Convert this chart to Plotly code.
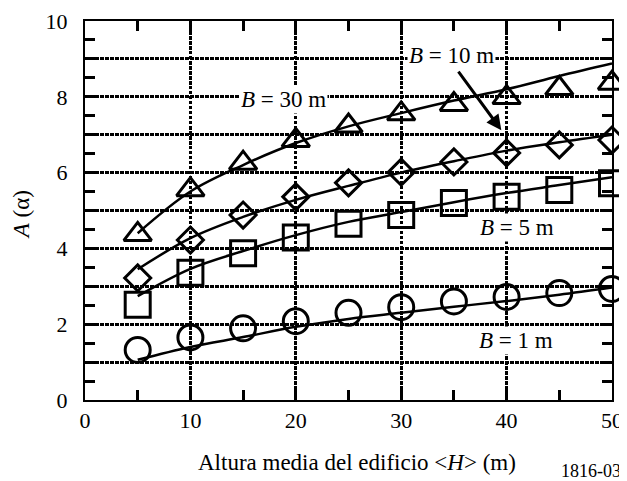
import plotly.graph_objects as go

# Data
heights = [5, 10, 15, 20, 25, 30, 35, 40, 45, 50]

b30_points = [4.37, 5.55, 6.25, 6.85, 7.23, 7.55, 7.80, 7.98, 8.22, 8.36]
b10_points = [3.22, 4.22, 4.88, 5.36, 5.73, 6.01, 6.28, 6.52, 6.73, 6.86]
b5_points = [2.51, 3.36, 3.87, 4.29, 4.65, 4.88, 5.20, 5.36, 5.54, 5.72]
b1_points = [1.32, 1.65, 1.89, 2.08, 2.30, 2.45, 2.60, 2.72, 2.82, 2.93]

b30_curve = [4.40, 5.50, 6.20, 6.78, 7.22, 7.57, 7.90, 8.20, 8.55, 8.88]
b10_curve = [3.45, 4.27, 4.83, 5.28, 5.65, 6.00, 6.30, 6.58, 6.80, 7.00]
b5_curve = [2.74, 3.46, 3.93, 4.35, 4.70, 4.96, 5.22, 5.46, 5.67, 5.88]
b1_curve = [1.06, 1.40, 1.66, 1.93, 2.14, 2.30, 2.46, 2.61, 2.78, 2.97]

y_tick_vals = list(range(0, 11))
y_tick_text = ["0", "", "2", "", "4", "", "6", "", "8", "", "10"]
x_tick_vals = [0, 10, 20, 30, 40, 50]
x_tick_text = ["0", "10", "20", "30", "40", "50"]

FONT = "Liberation Serif, Times New Roman, serif"

fig = go.Figure()

series = [
    (b30_curve, b30_points, "triangle-up-open", 24),
    (b10_curve, b10_points, "diamond-open", 20),
    (b5_curve, b5_points, "square-open", 25),
    (b1_curve, b1_points, "circle-open", 25),
]
for curve, pts, sym, sz in series:
    fig.add_trace(go.Scatter(
        x=heights, y=curve, mode="lines",
        line=dict(color="black", width=2.5, shape="spline", smoothing=1.0),
        showlegend=False, hoverinfo="skip"))
    fig.add_trace(go.Scatter(
        x=heights, y=pts, mode="markers",
        marker=dict(symbol=sym, size=sz, color="black", line=dict(width=3, color="black")),
        cliponaxis=False, showlegend=False))

ann_font = dict(family=FONT, size=23, color="black")
labels = [
    ("<i>B</i> = 30 m", 18.8, 7.94),
    ("<i>B</i> = 10 m", 34.8, 9.1),
    ("<i>B</i> = 5 m", 40.95, 4.54),
    ("<i>B</i> = 1 m", 40.85, 1.58),
]
for txt, x, y in labels:
    fig.add_annotation(x=x, y=y, text=txt, showarrow=False, font=ann_font,
                       bgcolor="white", borderpad=1)

fig.add_annotation(x=39.5, y=7.12, ax=-44, ay=-60, text="", showarrow=True,
                   arrowhead=2, arrowsize=1, arrowwidth=3, arrowcolor="black")

# Axis titles and figure number
fig.add_annotation(x=0.516, y=-0.166, xref="paper", yref="paper", xanchor="center",
                   yanchor="middle", text="Altura media del edificio &lt;<i>H</i>&gt; (m)",
                   showarrow=False, font=dict(family=FONT, size=23, color="black"))
fig.add_annotation(x=-0.121, y=0.488, xref="paper", yref="paper", xanchor="center",
                   yanchor="middle", text="<i>A</i> (α)", textangle=-90,
                   showarrow=False, font=dict(family=FONT, size=23, color="black"))
fig.add_annotation(x=0.96, y=-0.187, xref="paper", yref="paper", xanchor="center",
                   yanchor="middle", text="1816-03", showarrow=False,
                   font=dict(family=FONT, size=18, color="black"))

axis_common = dict(
    showline=True, linecolor="black", linewidth=2, mirror="ticks",
    ticks="inside", ticklen=10, tickwidth=2.5, tickcolor="black",
    showgrid=True, gridcolor="black", gridwidth=2.5, griddash="3.5px,1.5px",
    zeroline=False, tickfont=dict(family=FONT, size=22, color="black"),
    automargin=False,
)

fig.update_xaxes(
    range=[0, 50], tickmode="array", tickvals=x_tick_vals, ticktext=x_tick_text,
    minor=dict(dtick=5, ticks="inside", ticklen=10, tickwidth=2.5, tickcolor="black", showgrid=False),
    ticklabelstandoff=0,
    **axis_common)

fig.update_yaxes(
    range=[0, 10], tickmode="array", tickvals=y_tick_vals, ticktext=y_tick_text,
    minor=dict(dtick=0.5, ticks="inside", ticklen=10, tickwidth=2.5, tickcolor="black", showgrid=False),
    ticklabelstandoff=11,
    **axis_common)

# The page body has an 8px default margin, so the figure is made 8px smaller
fig.update_layout(
    width=619, height=473,
    margin=dict(l=77, r=15, t=13, b=81),
    plot_bgcolor="white", paper_bgcolor="white",
    font=dict(family=FONT, color="black"),
)

fig.write_html("out.html")
